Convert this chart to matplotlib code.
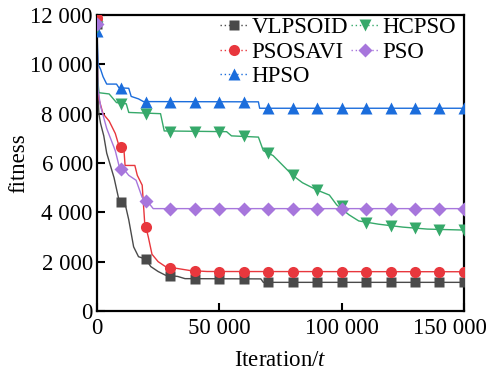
import matplotlib
matplotlib.use("Agg")
import matplotlib.pyplot as plt
import matplotlib.transforms as mtransforms
from matplotlib.lines import Line2D
from matplotlib.ticker import FuncFormatter

plt.rcParams["font.family"] = ["Liberation Serif", "DejaVu Serif"]
plt.rcParams["mathtext.fontset"] = "custom"
plt.rcParams["mathtext.rm"] = "Liberation Serif"
plt.rcParams["mathtext.it"] = "Liberation Serif:italic"

# convergence curves (iteration, best fitness)
vlpsoid_it = [0, 300, 800, 1500, 2800, 4000, 7000, 9000, 11500, 13000, 15000, 17000,
              20000, 22000, 25000, 28000, 33000, 36000, 67000, 68000, 150000]
vlpsoid_fit = [11650, 9000, 8000, 7600, 7100, 6400, 5400, 4500, 4350, 3700, 2600, 2200,
               2100, 1800, 1600, 1450, 1400, 1310, 1300, 1160, 1160]

psosavi_it = [0, 300, 800, 2500, 5000, 7500, 9000, 11000, 11500, 15500, 16500, 18500,
              19500, 21000, 22500, 25000, 28000, 33000, 38000, 45000, 150000]
psosavi_fit = [11900, 9500, 8600, 8000, 7700, 7200, 6700, 6600, 5900, 5900, 5500, 5100,
               3600, 3000, 2300, 2000, 1800, 1720, 1640, 1600, 1590]

hpso_it = [0, 500, 1500, 2500, 4000, 8000, 9000, 13000, 14000, 17000, 19000, 66000,
           66500, 150000]
hpso_fit = [11370, 10000, 9800, 9500, 9200, 9200, 9050, 9030, 8700, 8600, 8490, 8480,
            8220, 8220]

hcpso_it = [0, 300, 800, 5000, 8000, 12000, 13000, 26000, 27500, 53000, 55000, 66000,
            68000, 72000, 76000, 80000, 84000, 90000, 95000, 98000, 103000, 107000,
            115000, 125000, 135000, 150000]
hcpso_fit = [11520, 9500, 8850, 8800, 8450, 8400, 8050, 8000, 7300, 7270, 7100, 7050,
             6500, 6300, 5900, 5500, 5200, 4900, 4700, 4300, 3900, 3650,
             3520, 3400, 3320, 3280]

pso_it = [0, 400, 1500, 4000, 7500, 9000, 11000, 13000, 16000, 18500, 21000, 23000, 150000]
pso_fit = [11650, 9000, 8300, 7400, 6500, 5900, 5750, 5500, 5300, 4600, 4400, 4150, 4150]

# sampled points shown with markers, every 10 000 iterations
mark_it = [0, 10000, 20000, 30000, 40000, 50000, 60000, 70000, 80000,
           90000, 100000, 110000, 120000, 130000, 140000, 150000]
vlpsoid_mark = [11650, 4400, 2100, 1420, 1310, 1310, 1310, 1160, 1160,
                1160, 1160, 1160, 1160, 1160, 1160, 1160]
psosavi_mark = [11900, 6650, 3390, 1730, 1630, 1590, 1590, 1590, 1590,
                1590, 1590, 1590, 1590, 1590, 1590, 1590]
hpso_mark = [11370, 9030, 8485, 8480, 8480, 8480, 8480, 8220, 8220,
             8220, 8220, 8220, 8220, 8220, 8220, 8220]
hcpso_mark = [11520, 8400, 8000, 7270, 7270, 7270, 7100, 6400, 5500,
              4900, 4250, 3580, 3445, 3350, 3280, 3280]
pso_mark = [11650, 5750, 4450, 4150, 4150, 4150, 4150, 4150, 4150,
            4150, 4150, 4150, 4150, 4150, 4150, 4150]

series = [
    ("VLPSOID", vlpsoid_it, vlpsoid_fit, vlpsoid_mark, "#4a4a4a", "s", 7.5),
    ("PSOSAVI", psosavi_it, psosavi_fit, psosavi_mark, "#e8373d", "o", 8),
    ("HPSO", hpso_it, hpso_fit, hpso_mark, "#1b6ddc", "^", 9),
    ("HCPSO", hcpso_it, hcpso_fit, hcpso_mark, "#36a96a", "v", 9),
    ("PSO", pso_it, pso_fit, pso_mark, "#a776dc", "D", 7.5),
]

fig = plt.figure(figsize=(4.92, 3.76), dpi=100)
ax = fig.add_axes([0.197, 0.173, 0.746, 0.787])

handles = []
for name, it, fit, mk, col, m, ms in series:
    ax.plot(it, fit, color=col, lw=1.0, zorder=2)
    ax.plot(mark_it, mk, ls="none", marker=m, ms=ms, color=col, mec="none", zorder=3)
    handles.append(Line2D([], [], color=col, lw=1.0, ls=(0, (1, 2)),
                          marker=m, ms=ms, mec="none", label=name))

ax.set_xlim(0, 150000)
ax.set_ylim(0, 12000)
ax.set_xticks([0, 50000, 100000, 150000])
ax.set_yticks(range(0, 12001, 2000))
fmt = FuncFormatter(lambda v, p: f"{int(v):,}".replace(",", " "))
ax.xaxis.set_major_formatter(fmt)
ax.yaxis.set_major_formatter(fmt)
ax.tick_params(direction="in", length=6, width=1.5, labelsize=16.5, pad=3)
ax.tick_params(axis="x", pad=5)
for s in ax.spines.values():
    s.set_linewidth(1.6)

# pull the last x label inside the figure edge
fig.canvas.draw()
last = ax.get_xticklabels()[-1]
last.set_transform(last.get_transform() +
                   mtransforms.ScaledTranslation(-14 / 100, 0, fig.dpi_scale_trans))

ax.set_xlabel("Iteration/$t$", fontsize=16.5, labelpad=8)
ax.set_ylabel("fitness", fontsize=16.5, labelpad=1)

ax.legend(handles=handles, ncol=2, loc="upper left", bbox_to_anchor=(0.33, 1.0),
          frameon=False, fontsize=16.5, handlelength=1.2, handletextpad=0.15,
          columnspacing=0.15, labelspacing=0.15, borderpad=0.1, borderaxespad=0.0)

fig.savefig("out.png", dpi=100)
